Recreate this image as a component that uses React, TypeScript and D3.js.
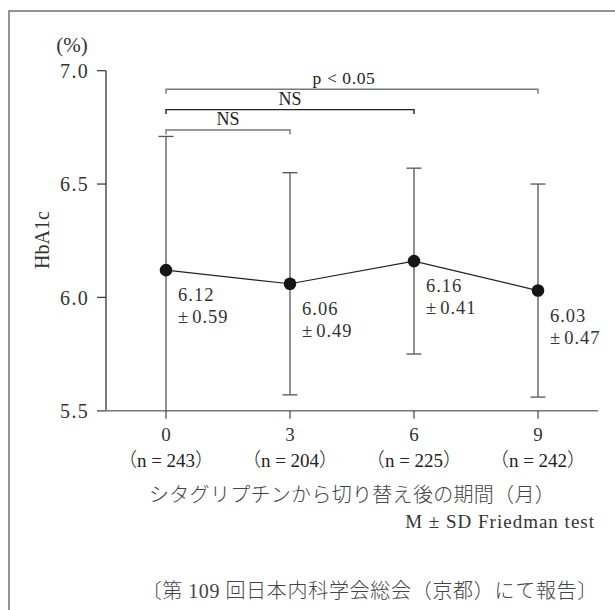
import React from 'react';
import * as d3 from 'd3';

// data
const months = ['0', '3', '6', '9'];
const nCounts = [243, 204, 225, 242];
const means = [6.12, 6.06, 6.16, 6.03];
const sds = [0.59, 0.49, 0.41, 0.47];
const yTicks = [5.5, 6.0, 6.5, 7.0];
const compareTo = ['3', '6', '9'];
const compareLabels = ['NS', 'NS', 'p < 0.05'];

const W = 615;
const H = 610;
const serif = "'Liberation Serif', 'Noto Sans CJK JP', serif";
const jp = "'Noto Sans CJK JP', sans-serif";

export default function App() {
  //Scales
  const axisLeft = 106;
  const axisRight = 598;
  const x = d3.scalePoint<string>().domain(months).range([axisLeft, axisRight]).padding(0.484);
  const y = d3.scaleLinear().domain([5.5, 7.0]).range([410.7, 70.7]);
  const y0 = y(5.5);

  //mean line
  const line = d3.line<number>()
    .x((d, i) => x(months[i]) as number)
    .y((d) => y(d));

  const capW = 15;
  const bracketBase = 130;
  const bracketStep = 20.4;

  return (
    <svg width={W} height={H} style={{ position: 'absolute', left: 0, top: 0, background: '#fff' }}>
      {/* frame */}
      <rect x={9} y={11} width={700} height={700} fill="none" stroke="#666" strokeWidth={1.4} />

      {/* y axis */}
      <text x={72} y={52} fontFamily={serif} fontSize={21} fill="#333" textAnchor="middle">(%)</text>
      <line x1={axisLeft} x2={axisLeft} y1={y(7.0)} y2={y0} stroke="#222" strokeWidth={1.2} />
      {yTicks.map((t) => (
        <g key={t}>
          <line x1={axisLeft - 9} x2={axisLeft} y1={y(t)} y2={y(t)} stroke="#333" strokeWidth={1.2} />
          <text x={89} y={y(t)} dy="0.36em" textAnchor="end" fontFamily={serif} fontSize={20}
            letterSpacing={1.3} fill="#333">{d3.format('.1f')(t)}</text>
        </g>
      ))}
      <text transform={`translate(49,240) rotate(-90)`} textAnchor="middle" fontFamily={serif}
        fontSize={20} fill="#333">HbA1c</text>

      {/* x axis */}
      <line x1={axisLeft - 9} x2={axisRight} y1={y0} y2={y0} stroke="#777" strokeWidth={1.6} />
      {months.map((m, i) => (
        <g key={m}>
          <line x1={x(m)} x2={x(m)} y1={y0} y2={y0 + 8} stroke="#444" strokeWidth={1.2} />
          <text x={x(m)} y={441} textAnchor="middle" fontFamily={serif} fontSize={19} fill="#333">{m}</text>
          <text x={x(m)} y={467} textAnchor="middle" fontFamily={serif} fontSize={19} fill="#222">
            <tspan fontFamily={jp} fontWeight={300}>（</tspan>n = {nCounts[i]}<tspan fontFamily={jp} fontWeight={300}>）</tspan>
          </text>
        </g>
      ))}
      <text x={(axisLeft + axisRight) / 2} y={502} textAnchor="middle" fontFamily={jp} fontWeight={300}
        fontSize={20} letterSpacing={0.3} fill="#444">シタグリプチンから切り替え後の期間（月）</text>

      {/* error bars: lower end clipped at axis, no cap if it reaches it */}
      {means.map((m, i) => {
        const cx = x(months[i]) as number;
        const hi = m + sds[i];
        const lo = m - sds[i];
        const loClipped = lo < 5.55;
        return (
          <g key={'e' + i} stroke="#555" strokeWidth={1.3}>
            <line x1={cx} x2={cx} y1={y(hi)} y2={loClipped ? y0 : y(lo)} />
            <line x1={cx - capW / 2} x2={cx + capW / 2} y1={y(hi)} y2={y(hi)} />
            {!loClipped && <line x1={cx - capW / 2} x2={cx + capW / 2} y1={y(lo)} y2={y(lo)} />}
          </g>
        );
      })}

      {/* mean line and points */}
      <path d={line(means) || ''} fill="none" stroke="#222" strokeWidth={1.2} />
      {means.map((m, i) => (
        <circle key={'p' + i} cx={x(months[i])} cy={y(m)} r={6.3} fill="#151515" />
      ))}
      {means.map((m, i) => (
        <text key={'l' + i} x={(x(months[i]) as number) + 12} y={y(m) + 31} fontFamily={serif}
          fontSize={18.5} letterSpacing={1} fill="#333">
          <tspan>{d3.format('.2f')(m)}</tspan>
          <tspan x={(x(months[i]) as number) + 12} dy={22}>±<tspan dx={3}>{d3.format('.2f')(sds[i])}</tspan></tspan>
        </text>
      ))}

      {/* comparison brackets */}
      {compareTo.map((m, i) => {
        const x1 = x(months[0]) as number;
        const x2 = x(m) as number;
        const by = bracketBase - bracketStep * i;
        return (
          <g key={'b' + m}>
            <path d={`M${x1},${by + 4.5}V${by}H${x2}V${by + 4.5}`} fill="none"
              stroke={i === 1 ? '#222' : '#777'} strokeWidth={1.4} />
            <text x={(x1 + x2) / 2 - (i === 2 ? 8 : 0)} y={by - 5} textAnchor="middle" fontFamily={serif}
              fontSize={i === 2 ? 17.5 : 18} letterSpacing={i === 2 ? 0.6 : 0} fill="#222">{compareLabels[i]}</text>
          </g>
        );
      })}

      {/* notes */}
      <text x={595} y={528} textAnchor="end" fontFamily={serif} fontSize={19} letterSpacing={1}
        fill="#333">M ± SD Friedman test</text>
      <text x={598} y={598} textAnchor="end" fontFamily={jp} fontWeight={300} fontSize={20}
        letterSpacing={0.7} fill="#444">
        〔第 <tspan fontFamily={serif}>109</tspan> 回日本内科学会総会（京都）にて報告〕
      </text>
    </svg>
  );
}
